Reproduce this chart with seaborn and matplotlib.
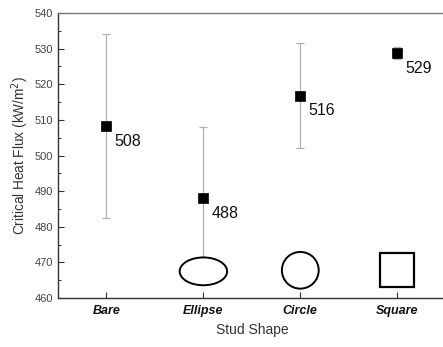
import matplotlib
matplotlib.use("Agg")
import matplotlib.pyplot as plt
import seaborn as sns
import pandas as pd
from matplotlib.patches import Ellipse, Rectangle
from matplotlib.ticker import MultipleLocator

sns.set_style("white")
plt.rcParams['font.family'] = ['Liberation Sans', 'DejaVu Sans']

shapes = ["Bare", "Ellipse", "Circle", "Square"]
chf = [508.3, 488.1, 516.8, 528.8]
err = [25.7, 19.8, 14.8, 1.8]
labels = ["508", "488", "516", "529"]

df = pd.DataFrame({"shape": shapes, "chf": chf, "err": err})
xs = list(range(len(shapes)))

fig = plt.figure(figsize=(4.43, 3.47), dpi=100)
ax = fig.add_axes([0.131, 0.141, 0.875, 0.8215])

ax.errorbar(xs, df["chf"], yerr=df["err"], fmt="none", ecolor="#b0b0b0",
            elinewidth=0.9, capsize=3, capthick=0.9, zorder=2)
sns.scatterplot(data=df, x=xs, y="chf", marker="s", color="black", s=55,
                edgecolor="black", linewidth=0.5, ax=ax, zorder=3, legend=False)

for x, y, t in zip(xs, chf, labels):
    ax.annotate(t, (x, y), xytext=(6, -11), textcoords="offset points",
                fontsize=11.5, color="#111111", ha="left", va="center")

# shape icons
ax.add_patch(Ellipse((1, 467.5), 0.49, 7.8, fill=True, lw=1.4, ec="black", fc="white", zorder=4))
ax.add_patch(Ellipse((2, 467.8), 0.38, 10.3, fill=True, lw=1.4, ec="black", fc="white", zorder=4))
ax.add_patch(Rectangle((3 - 0.175, 463.1), 0.35, 9.5, fill=True, lw=1.6, ec="black", fc="white", zorder=4))

ax.set_xlim(-0.5, 3.5)
ax.set_ylim(460, 540)
ax.yaxis.set_major_locator(MultipleLocator(10))
ax.yaxis.set_minor_locator(MultipleLocator(5))
ax.set_xticks(xs)
ax.set_xticklabels(shapes, fontsize=9, fontweight="bold", fontstyle="italic", color="#111111")
ax.tick_params(axis="y", which="major", direction="in", length=4, width=0.8,
               labelsize=8, labelcolor="#444444", color="#333333", left=True)
ax.tick_params(axis="y", which="minor", direction="in", length=2.5, width=0.7,
               color="#333333", left=True)
ax.tick_params(axis="x", which="major", direction="in", length=4, width=0.8,
               color="#333333", bottom=True, pad=5)
ax.set_xlabel("Stud Shape", fontsize=10, color="#333333", labelpad=4)
ax.set_ylabel("Critical Heat Flux (kW/m$^2$)", fontsize=9.8, color="#333333", labelpad=3)

for side in ["left", "bottom", "top"]:
    ax.spines[side].set_color("#333333")
    ax.spines[side].set_linewidth(1.0)
ax.spines["top"].set_color("#777777")
ax.spines["right"].set_visible(False)

fig.savefig("out.png", dpi=100)
